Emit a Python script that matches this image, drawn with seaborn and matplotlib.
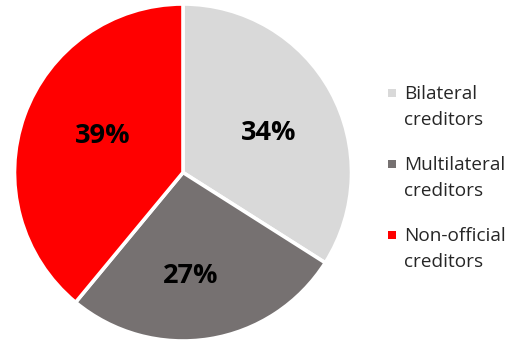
import matplotlib
matplotlib.use("Agg")
import matplotlib.pyplot as plt
import seaborn as sns
import numpy as np
from matplotlib.patches import Rectangle

categories = ["Bilateral creditors", "Multilateral creditors", "Non-official creditors"]
legend_lines = [["Bilateral", "creditors"], ["Multilateral", "creditors"], ["Non-official", "creditors"]]
shares = [34, 27, 39]
colors = ["#D9D9D9", "#767171", "#FF0000"]

sns.set_theme(style="white")
plt.rcParams["font.family"] = ["Open Sans", "DejaVu Sans"]

W, H = 519, 345
fig = plt.figure(figsize=(W / 100, H / 100), dpi=100)
cx, cy, r = 183, 172.5, 168.5
ax = fig.add_axes([(cx - r) / W, (H - cy - r) / H, 2 * r / W, 2 * r / H])
wedges, texts, autotexts = ax.pie(
    shares, colors=colors, startangle=90, counterclock=False,
    autopct=lambda p: f"{p:.0f}%", pctdistance=0.57, radius=1.0,
    wedgeprops=dict(edgecolor="white", linewidth=2.6),
    textprops=dict(fontsize=19.5, fontweight="bold", color="black"),
)
# fine placement of percentage labels (radius fraction, clockwise angular shift)
label_radius = [0.567, 0.598, 0.529]
label_shift = [2.4, 4.4, 6.5]
for w, t, rr, sh in zip(wedges, autotexts, label_radius, label_shift):
    mid = np.deg2rad((w.theta1 + w.theta2) / 2 - sh)
    t.set_position((rr * np.cos(mid), rr * np.sin(mid)))
    t.set_va("center_baseline")

ax.set_xlim(-1.0, 1.0)
ax.set_ylim(-1.0, 1.0)
ax.set_aspect("equal")
ax.axis("off")

# manual legend (marker aligned with first line)
first_baselines = [99, 170, 241]
line_gap = 26
for i, (lines, col) in enumerate(zip(legend_lines, colors)):
    b = first_baselines[i]
    fig.add_artist(Rectangle((388 / W, (H - b + 2) / H), 8 / W, 8 / H,
                             transform=fig.transFigure, facecolor=col, edgecolor="none"))
    for j, t in enumerate(lines):
        fig.text(404 / W, (H - (b + j * line_gap)) / H, t, fontsize=13.7,
                 color="#262626", va="baseline", ha="left")

fig.savefig("out.png", dpi=100)
